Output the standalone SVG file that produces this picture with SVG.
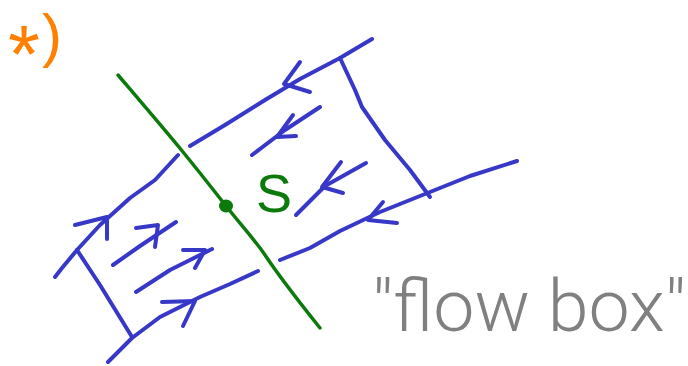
<svg xmlns="http://www.w3.org/2000/svg" width="688" height="366" viewBox="0 0 688 366">
<style>
.b{fill:none;stroke:#3737c8;stroke-width:4;stroke-linecap:round;stroke-linejoin:round}
.g{fill:none;stroke:#0b7a0b;stroke-width:3.5;stroke-linecap:round;stroke-linejoin:round}
.t{font-family:"Liberation Sans",Arial,sans-serif}
</style>
<rect width="688" height="366" fill="#fff"/>
<g id="note">
<text class="t" x="8" y="82" fill="#ff8000" font-size="82" font-weight="300">*<tspan dx="2" dy="-26" font-size="60">)</tspan></text>
</g>
<g id="surface">
<path class="g" d="M118,75 C135,95 165,130 183,152 S215,192 226,206 S255,240 265,255 S300,303 320,328"/>
<ellipse cx="226" cy="206" rx="7" ry="6.5" fill="#0b7a0b"/>
<text class="t" x="256" y="212" font-size="54" fill="#0b7a0b">S</text>
</g>
<g id="connectors">
<path class="b" d="M55,277 L62,268 L77,250 L100,225 L130,198 L155,180 L178,155"/>
<path class="b" d="M190,146 L225,125 L265,100 L300,79 L340,58 L372,39"/>
<path class="b" d="M108,362 L120,350 L132,338 L160,317 L200,297 L230,284 L258,271"/>
<path class="b" d="M280,260 L310,248 L340,231 L380,212 L430,192 L470,176 L517,161"/>
<path class="b" d="M77,250 L100,285 L132,337"/>
<path class="b" d="M340,58 L355,90 L362,107 L385,140 L410,170 L430,197"/>
<path class="b" d="M75,225 L107,217 L107,239"/>
<path class="b" d="M113,265 L140,246 L176,222"/>
<path class="b" d="M136,228 L158,225 L155,247"/>
<path class="b" d="M136,292 L170,270 L212,249"/>
<path class="b" d="M183,250 L205,250 L195,268"/>
<path class="b" d="M162,302 L195,301 L183,326"/>
<path class="b" d="M300,62 L284,84 L310,92"/>
<path class="b" d="M252,155 L285,130 L320,107"/>
<path class="b" d="M293,115 L277,137 L296,136"/>
<path class="b" d="M296,215 L325,186 L366,163"/>
<path class="b" d="M341,162 L322,187 L343,193"/>
<path class="b" d="M383,202 L368,220 L397,223"/>
</g>
<g id="label">
<text x="372" y="331" font-family="Roboto,'Liberation Sans',sans-serif" font-weight="300" font-size="72" fill="#808080" textLength="314" lengthAdjust="spacingAndGlyphs">"flow box"</text>
</g>
</svg>
